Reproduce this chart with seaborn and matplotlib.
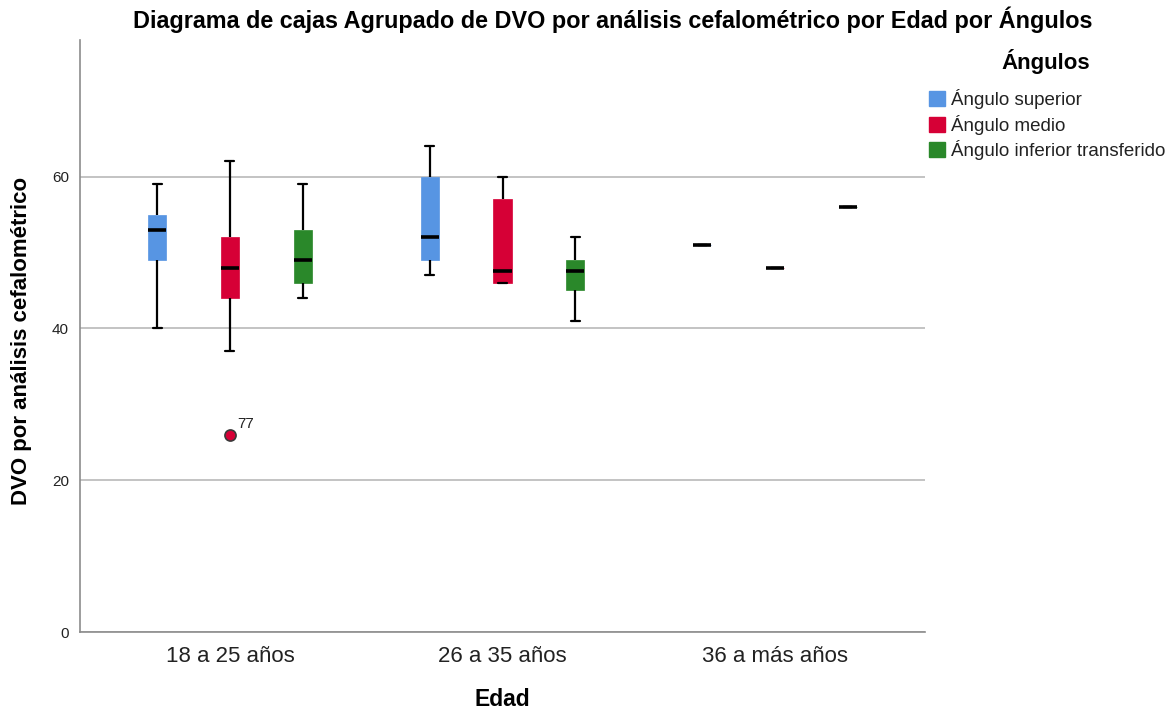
import matplotlib
matplotlib.use("Agg")
import matplotlib.pyplot as plt
import seaborn as sns
import pandas as pd
from matplotlib.patches import Patch

# categorias
edades = ["18 a 25 años", "26 a 35 años", "36 a más años"]
angulos = ["Ángulo superior", "Ángulo medio", "Ángulo inferior transferido"]
colores = ["#5795e3", "#d60036", "#2a882a"]

# valores DVO (min, Q1, mediana, Q3, max)
sup_18_25 = [40, 49, 53, 55, 59]
med_18_25 = [26, 37, 44, 46, 48, 50, 52, 55, 62]
inf_18_25 = [44, 46, 49, 53, 59]
sup_26_35 = [47, 49, 52, 60, 64]
med_26_35 = [46, 46, 47.5, 57, 60]
inf_26_35 = [41, 45, 47.5, 49, 52]
sup_36 = [51]
med_36 = [48]
inf_36 = [56]

# caso atipico
caso_atipico = 77
valor_atipico = 26

grupos = [
    (edades[0], angulos[0], sup_18_25),
    (edades[0], angulos[1], med_18_25),
    (edades[0], angulos[2], inf_18_25),
    (edades[1], angulos[0], sup_26_35),
    (edades[1], angulos[1], med_26_35),
    (edades[1], angulos[2], inf_26_35),
    (edades[2], angulos[0], sup_36),
    (edades[2], angulos[1], med_36),
    (edades[2], angulos[2], inf_36),
]
filas = []
for edad, ang, vals in grupos:
    for v in vals:
        filas.append((edad, ang, v))
df = pd.DataFrame(filas, columns=["Edad", "Ángulos", "DVO"])

# %%
sns.set_style("white")
plt.rcParams["font.family"] = ["Liberation Sans", "DejaVu Sans"]

fig = plt.figure(figsize=(11.74, 7.13), dpi=100)
ax = fig.add_axes([80 / 1174, 1 - 632 / 713, 845 / 1174, 592 / 713])

sns.boxplot(data=df, x="Edad", y="DVO", hue="Ángulos",
            order=edades, hue_order=angulos, palette=colores,
            saturation=1, width=0.8, gap=0.75,
            linecolor="black", linewidth=1.6, whis=1.5,
            medianprops=dict(color="black", linewidth=2.6),
            flierprops=dict(marker="o", markersize=8),
            legend=False, ax=ax)

# cajas sin borde, outlier rojo
for p in ax.patches:
    p.set_edgecolor(p.get_facecolor())
    p.set_linewidth(0.5)
for ln in ax.lines:
    if ln.get_marker() == "o":
        ln.set_markerfacecolor(colores[1])
        ln.set_markeredgecolor("#3a3a3a")
        ln.set_markeredgewidth(1.2)

ax.annotate(str(caso_atipico), xy=(0, valor_atipico), xytext=(5, 5),
            textcoords="offset points", fontsize=11, color="#222222")

ax.set_ylim(0, 78)
ax.set_xlim(-0.55, 2.55)
ax.set_yticks([0, 20, 40, 60])
ax.yaxis.grid(True, color="#b9b9b9", linewidth=1.2)
ax.set_axisbelow(True)
ax.tick_params(axis="both", length=0, colors="#222222")
ax.tick_params(axis="y", labelsize=11, pad=8)
ax.tick_params(axis="x", labelsize=16, pad=10)
for s in ["top", "right"]:
    ax.spines[s].set_visible(False)
for s in ["left", "bottom"]:
    ax.spines[s].set_color("#8c8c8c")
    ax.spines[s].set_linewidth(1.2)

ax.set_xlabel("Edad", fontsize=16.5, fontweight="bold", labelpad=15, color="black")
ax.set_ylabel("")
fig.text(22 / 1174, 1 - 341 / 713, "DVO por análisis cefalométrico",
         rotation=90, ha="center", va="center", fontsize=16, fontweight="bold",
         color="black")
fig.text(613 / 1174, 1 - 20 / 713,
         "Diagrama de cajas Agrupado de DVO por análisis cefalométrico por Edad por Ángulos",
         ha="center", va="center", fontsize=16.8, fontweight="bold", color="black")

# leyenda
fig.text(1046 / 1174, 1 - 62 / 713, "Ángulos", ha="center", va="center",
         fontsize=16, fontweight="bold", color="black")
handles = [Patch(facecolor=c, edgecolor=c) for c in colores]
fig.legend(handles, angulos, loc="upper left",
           bbox_to_anchor=(929 / 1174, 1 - 89 / 713), frameon=False,
           fontsize=13.5, labelcolor="#222222",
           handlelength=0.85, handleheight=0.85, handletextpad=0.3,
           labelspacing=0.3, borderaxespad=0, borderpad=0)

fig.savefig("out.png", dpi=100)
